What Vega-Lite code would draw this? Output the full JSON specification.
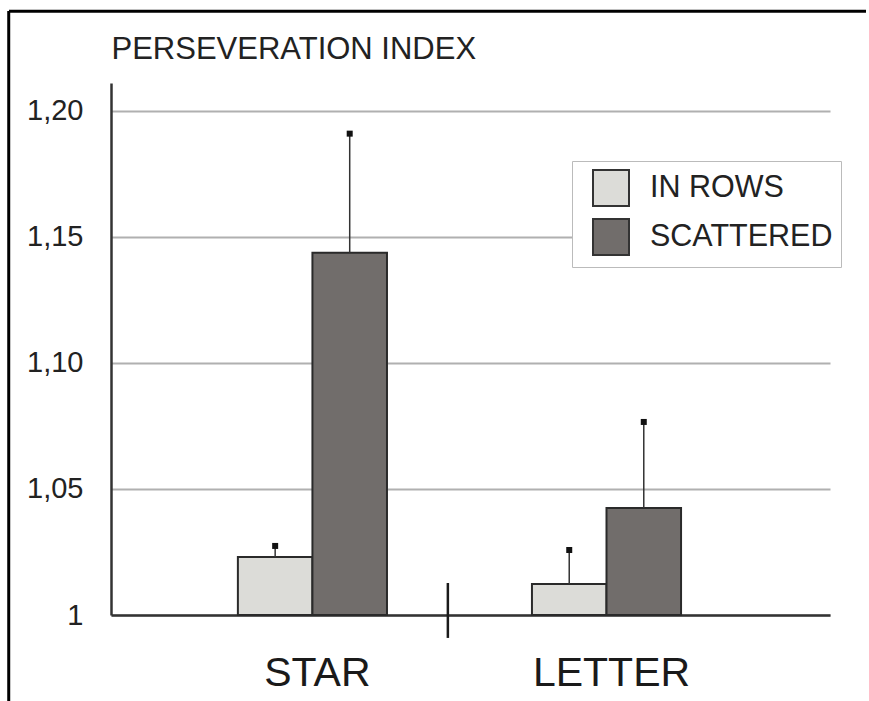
{
  "$schema": "https://vega.github.io/schema/vega-lite/v6.json",
  "autosize": {"type": "none"},
  "padding": {"left": 9, "top": 11, "right": 0, "bottom": 0},
  "width": 857,
  "height": 690,
  "background": "white",
  "config": {
    "font": "Liberation Sans",
    "view": {"stroke": null}
  },
  "data": {
    "values": [
      {"cond": "STAR", "grp": "IN ROWS", "mean": 1.023, "upper": 1.0274},
      {"cond": "STAR", "grp": "SCATTERED", "mean": 1.1437, "upper": 1.191},
      {"cond": "LETTER", "grp": "IN ROWS", "mean": 1.0123, "upper": 1.0258},
      {"cond": "LETTER", "grp": "SCATTERED", "mean": 1.0425, "upper": 1.0766}
    ]
  },
  "layer": [
    {
      "mark": {"type": "bar", "stroke": "#2a2a2a", "strokeWidth": 2},
      "encoding": {
        "x": {
          "field": "cond",
          "type": "nominal",
          "sort": ["STAR", "LETTER"],
          "scale": {"domain": ["STAR", "LETTER"], "range": [102, 821], "paddingInner": 0.493, "paddingOuter": 0.469, "align": 0.46, "round": false},
          "axis": {
            "orient": "bottom", "offset": -86, "title": null, "ticks": false, "grid": false,
            "domainColor": "#333333", "domainWidth": 2.5,
            "labelFontSize": 41, "labelPadding": 38, "labelOffset": 5, "labelColor": "#1a1a1a", "labelAngle": 0
          }
        },
        "xOffset": {"field": "grp", "type": "nominal", "scale": {"domain": ["IN ROWS", "SCATTERED"], "paddingInner": 0, "paddingOuter": 0}},
        "y": {
          "field": "mean", "type": "quantitative",
          "scale": {"domain": [1, 1.2111], "range": [604, 72], "nice": false, "zero": false},
          "axis": {
            "orient": "left", "offset": -102, "values": [1, 1.05, 1.1, 1.15, 1.2],
            "labelExpr": "datum.value == 1 ? '1' : replace(format(datum.value, '.2f'), '.', ',')",
            "ticks": false, "labelPadding": 28, "labelFontSize": 29, "labelColor": "#222222",
            "domainColor": "#333333", "domainWidth": 2.5,
            "grid": true, "gridColor": "#b0b0b0", "gridWidth": 2,
            "title": "PERSEVERATION INDEX", "titleAngle": 0, "titleAlign": "left", "titleBaseline": "alphabetic",
            "titleX": 0, "titleY": 47, "titleFontSize": 31, "titleFontWeight": "normal", "titleColor": "#222222"
          }
        },
        "y2": {"datum": 1},
        "fill": {
          "field": "grp", "type": "nominal",
          "scale": {"domain": ["IN ROWS", "SCATTERED"], "range": ["#dcdcd8", "#716d6b"]},
          "legend": {
            "orient": "none", "legendX": 563, "legendY": 150, "title": null,
            "symbolType": "square", "symbolSize": 1296, "symbolStrokeColor": "#333333", "symbolStrokeWidth": 2,
            "symbolOffset": 12, "labelOffset": 20, "labelFontSize": 30.5, "labelColor": "#222222", "labelLimit": 400,
            "rowPadding": 5, "padding": 8, "strokeColor": "#bbbbbb", "fillColor": "white"
          }
        }
      }
    },
    {
      "mark": {"type": "rule", "color": "#333333", "strokeWidth": 1.5},
      "encoding": {
        "x": {"field": "cond", "type": "nominal"},
        "xOffset": {"field": "grp", "type": "nominal"},
        "y": {"field": "mean", "type": "quantitative"},
        "y2": {"field": "upper"}
      }
    },
    {
      "mark": {"type": "point", "shape": "square", "filled": true, "size": 36, "color": "#111111", "opacity": 1},
      "encoding": {
        "x": {"field": "cond", "type": "nominal"},
        "xOffset": {"field": "grp", "type": "nominal"},
        "y": {"field": "upper", "type": "quantitative"}
      }
    },
    {
      "data": {"values": [{"top": 1.0127, "bottom": 0.9909}]},
      "mark": {"type": "rule", "color": "#1a1a1a", "strokeWidth": 2.5},
      "encoding": {
        "x": {"datum": "LETTER", "bandPosition": -0.564},
        "y": {"field": "top", "type": "quantitative"},
        "y2": {"field": "bottom"}
      }
    },
    {
      "data": {"values": [{"frameTop": 1.2396}]},
      "mark": {"type": "rule", "color": "#000000", "strokeWidth": 3},
      "encoding": {
        "y": {"field": "frameTop", "type": "quantitative"}
      }
    },
    {
      "data": {"values": [{"frameLeft": "STAR"}]},
      "mark": {"type": "rule", "color": "#000000", "strokeWidth": 3},
      "encoding": {
        "x": {"field": "frameLeft", "type": "nominal", "bandPosition": -1.537}
      }
    }
  ]
}
